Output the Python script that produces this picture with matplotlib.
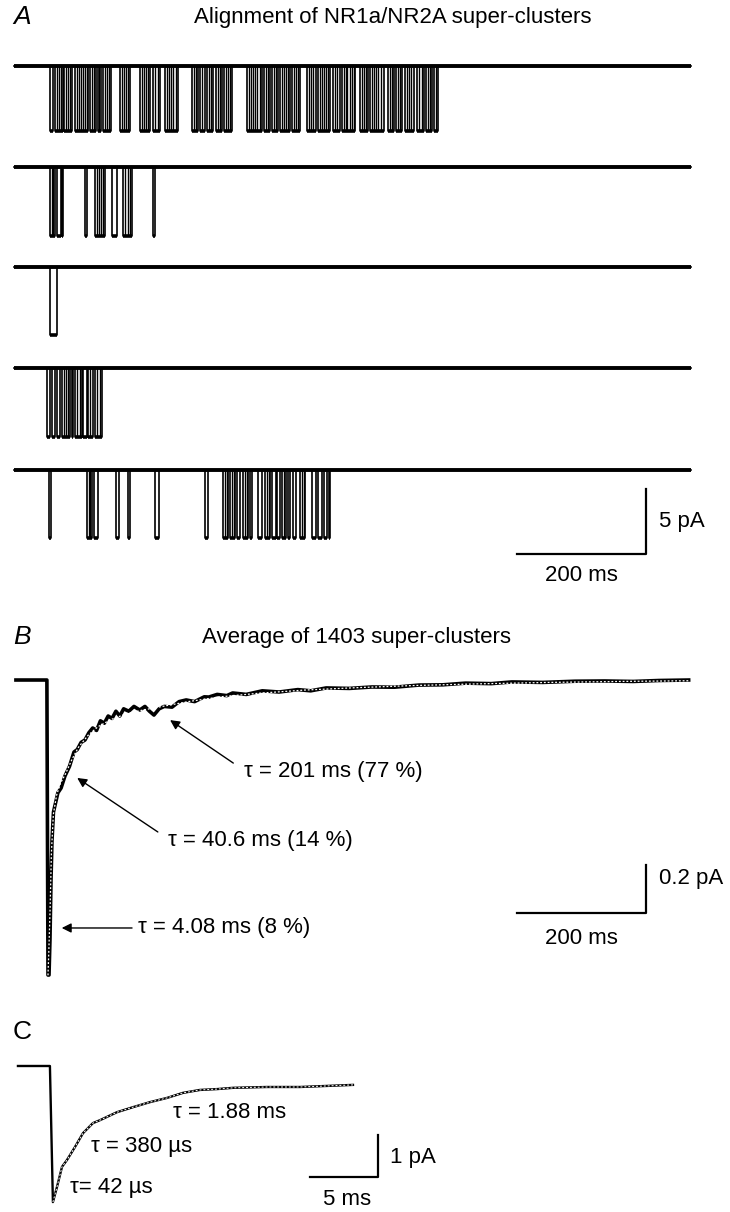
import matplotlib
matplotlib.use('Agg')
import matplotlib.pyplot as plt

plt.rcParams['font.family'] = ['Liberation Sans', 'DejaVu Sans']

# ---- panel A: single-channel openings (start ms, end ms), amplitude in pA
trace_len = 1050
a_amps = [5.0, 5.3, 5.2, 5.3, 5.2]
a_open_1 = [(56, 60), (64, 76), (78, 90), (95, 115), (118, 127), (130, 135), (138, 150),
            (164, 180), (195, 211), (216, 226), (234, 254), (276, 285), (288, 296),
            (299, 308), (313, 322), (326, 338), (361, 384), (388, 397), (400, 409),
            (412, 428), (431, 443), (454, 468), (471, 490), (494, 505), (508, 529),
            (536, 549), (552, 573), (580, 589), (592, 601), (606, 620), (625, 635),
            (639, 648), (651, 657)]
a_open_2 = [(56, 64), (67, 73), (74, 76), (110, 113), (126, 141), (152, 160),
            (169, 183), (215, 219)]
a_open_3 = [(56, 67)]
a_open_4 = [(51, 56), (59, 64), (67, 71), (74, 87), (90, 92), (95, 105), (107, 113),
            (115, 122), (126, 136)]
a_open_5 = [(54, 57), (113, 121), (124, 130), (158, 163), (177, 180), (219, 225),
            (296, 301), (324, 332), (335, 343), (346, 350), (355, 363), (366, 369),
            (378, 384), (389, 397), (400, 406), (408, 412), (415, 422), (425, 428),
            (432, 437), (443, 451), (462, 468), (471, 477), (481, 485), (488, 490)]
a_openings = [a_open_1, a_open_2, a_open_3, a_open_4, a_open_5]

# brief closures (flickers) inside the openings, ms
a_flick_1 = [67, 70, 73, 81, 84, 87, 98, 101, 104, 107, 110, 113, 121, 124, 132, 141, 144,
             147, 167, 170, 173, 177, 198, 202, 205, 208, 219, 223, 237, 240, 244, 247, 251,
             279, 282, 292, 302, 305, 316, 319, 329, 332, 335, 364, 367, 371, 374, 377, 381,
             391, 394, 403, 406, 415, 418, 421, 425, 434, 437, 440, 457, 460, 464, 474, 477,
             481, 484, 487, 497, 501, 511, 514, 517, 521, 524, 527, 539, 542, 546, 555, 558,
             562, 565, 569, 583, 586, 595, 598, 609, 612, 616, 628, 632, 642, 645, 654]
a_flick_2 = [59, 61, 129, 132, 135, 138, 172, 176, 180]
a_flick_3 = []
a_flick_4 = [77, 80, 84, 98, 102, 118, 129, 133]
a_flick_5 = [116, 118, 327, 330, 338, 341, 358, 361, 392, 395, 418, 446, 449]
a_flicks = [a_flick_1, a_flick_2, a_flick_3, a_flick_4, a_flick_5]

# ---- panel B: average of super-clusters (ms, pA) and the fit
b_time = [3, 48, 51, 52.7, 54.3, 55.8, 57.4, 58.9, 61.2, 68, 73, 79, 86, 93, 98, 104, 110,
          116, 122, 128, 134, 140, 146, 152, 158, 164, 170, 178, 186, 195, 203, 210, 217,
          225, 233, 245, 256, 267, 280, 295, 302, 315, 330, 339, 360, 385, 411, 440, 460,
          484, 520, 555, 590, 628, 665, 700, 740, 772, 820, 870, 916, 960, 1000, 1046]
b_curr = [0, 0, 0, -1.229, -1.229, -1.08, -0.83, -0.67, -0.55, -0.47, -0.45, -0.40, -0.36,
          -0.30, -0.29, -0.26, -0.25, -0.22, -0.20, -0.21, -0.17, -0.18, -0.15, -0.16,
          -0.13, -0.15, -0.12, -0.13, -0.11, -0.125, -0.11, -0.13, -0.146, -0.12, -0.11,
          -0.113, -0.09, -0.083, -0.09, -0.07, -0.071, -0.06, -0.065, -0.054, -0.06,
          -0.045, -0.05, -0.04, -0.045, -0.033, -0.035, -0.029, -0.03, -0.021, -0.02,
          -0.013, -0.015, -0.008, -0.01, -0.005, -0.004, -0.006, -0.002, 0]
fit_time = [52.7, 54, 56, 58, 61, 66, 72, 80, 90, 100, 115, 130, 150, 175, 200, 230, 270,
            320, 380, 450, 530, 620, 720, 830, 940, 1046]
fit_curr = [-1.23, -1.13, -0.95, -0.72, -0.56, -0.48, -0.43, -0.39, -0.33, -0.28, -0.23,
            -0.195, -0.165, -0.14, -0.125, -0.11, -0.09, -0.07, -0.055, -0.042, -0.032,
            -0.023, -0.016, -0.01, -0.006, -0.003]
b_labels = ['τ = 201 ms (77 %)', 'τ = 40.6 ms (14 %)', 'τ = 4.08 ms (8 %)']

# ---- panel C: fast time scale (ms, pA)
c_time = [0, 2.35, 2.57, 2.87, 3.24, 3.60, 4.19, 4.78, 5.51, 6.03, 7.28, 8.46, 9.71, 10.96,
          12.13, 13.38, 14.63, 15.81, 18.31, 20.74, 24.63]
c_curr = [0, 0, -3.24, -2.88, -2.40, -2.24, -1.93, -1.60, -1.36, -1.29, -1.10, -0.98, -0.86,
          -0.76, -0.64, -0.57, -0.55, -0.52, -0.50, -0.50, -0.45]
c_labels = ['τ = 1.88 ms', 'τ = 380 µs', 'τ= 42 µs']

W, H = 730, 1212
fig = plt.figure(figsize=(W / 100, H / 100), dpi=100)


def px_axes(x0, y0, x1, y1):
    ax = fig.add_axes([x0 / W, 1 - y1 / H, (x1 - x0) / W, (y1 - y0) / H])
    ax.axis('off')
    return ax


def ftext(x, y, s, **kw):
    fig.text(x / W, 1 - y / H, s, **kw)


def steps(openings, amp):
    t, y = [0], [0]
    for s, e in openings:
        t += [s, s, e, e]
        y += [0, -amp, -amp, 0]
    t.append(trace_len)
    y.append(0)
    return t, y


fs = 16

# panel A
axA = px_axes(0, 0, 730, 620)
axA.set_xlim(-21.7, 1110.1)
axA.set_ylim(-47.69, 0)
a_offsets = [5.1, 12.85, 20.55, 28.3, 36.15]
for ops, flk, amp, off in zip(a_openings, a_flicks, a_amps, a_offsets):
    t, y = steps(ops, amp)
    axA.plot(t, [v - off for v in y], color='black', lw=1.2)
    axA.plot([0, trace_len], [-off, -off], color='black', lw=2.8, solid_capstyle='butt')
    axA.hlines([-off - amp] * len(ops), [s for s, e in ops], [e for s, e in ops],
               color='black', lw=2.6)
    if flk:
        axA.vlines(flk, -off - amp, -off, color='black', lw=1.0)
axA.plot([780, 980, 980], [-42.6, -42.6, -37.6], color='black', lw=1.6)
axA.text(1000, -40.1, '5 pA', fontsize=fs, va='center', ha='left')
axA.text(880, -44.3, '200 ms', fontsize=fs, va='center', ha='center')
ftext(13, 17, 'A', fontsize=19, style='italic', va='center')
ftext(393, 18, 'Alignment of NR1a/NR2A super-clusters', fontsize=fs, ha='center', va='center')

# panel B
axB = px_axes(0, 620, 730, 1000)
axB.set_xlim(-21.7, 1110.1)
axB.set_ylim(-1.333, 0.25)
axB.plot(b_time, b_curr, color='black', lw=2.6)
axB.plot(fit_time, fit_curr, color='white', lw=0.9, ls=(0, (1.5, 1.5)))
axB.plot([780, 980, 980], [-0.971, -0.971, -0.771], color='black', lw=1.6)
axB.text(1000, -0.825, '0.2 pA', fontsize=fs, va='center', ha='left')
axB.text(880, -1.075, '200 ms', fontsize=fs, va='center', ha='center')
arrows = [((356, -0.383), (242, -0.167), (340, -0.346)),
          ((239, -0.667), (98, -0.408), (223, -0.633)),
          ((192, -1.033), (74, -1.033), (183, -1.033))]
for lab, (tpos, tip, tail) in zip(b_labels, arrows):
    axB.text(tpos[0], tpos[1], lab, fontsize=fs, va='center', ha='left')
    axB.annotate('', xy=tip, xytext=tail,
                 arrowprops=dict(arrowstyle='-|>', color='black', lw=1.0,
                                 mutation_scale=14, shrinkA=0, shrinkB=0))
ftext(13, 637, 'B', fontsize=19, style='italic', va='center')
ftext(356, 638, 'Average of 1403 super-clusters', fontsize=fs, ha='center', va='center')

# panel C
axC = px_axes(0, 1000, 730, 1212)
axC.set_xlim(-1.32, 52.35)
axC.set_ylim(-3.476, 1.571)
axC.plot(c_time, c_curr, color='black', lw=1.7)
axC.plot(c_time[2:], c_curr[2:], color='white', lw=0.7, ls=(0, (2, 2)))
axC.plot([21.47, 26.47, 26.47], [-2.643, -2.643, -1.643], color='black', lw=1.6)
axC.text(27.35, -2.167, '1 pA', fontsize=fs, va='center', ha='left')
axC.text(24.2, -3.19, '5 ms', fontsize=fs, va='center', ha='center')
c_pos = [(11.4, -1.119), (5.37, -1.905), (3.82, -2.881)]
for lab, (x, y) in zip(c_labels, c_pos):
    axC.text(x, y, lab, fontsize=fs, va='center', ha='left')
ftext(13, 1032, 'C', fontsize=19, va='center')

fig.savefig('out.png', dpi=100, facecolor='white')
